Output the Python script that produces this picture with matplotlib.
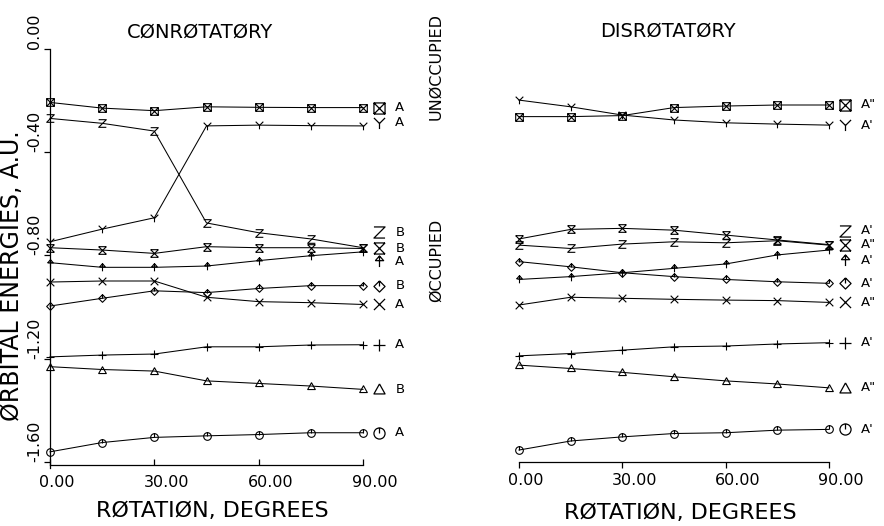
import matplotlib
matplotlib.use("Agg")
import matplotlib.pyplot as plt
from matplotlib.path import Path
from matplotlib.transforms import ScaledTranslation

plt.rcParams["font.family"] = ["DejaVu Sans"]
plt.rcParams["axes.unicode_minus"] = False

# ---- data -------------------------------------------------------------
angles = [0, 15, 30, 45, 60, 75, 90]
x_ticks = [0, 30, 60, 90]
x_tick_labels = ["0.00", "30.00", "60.00", "90.00"]
y_ticks = [0.0, -0.4, -0.8, -1.2, -1.6]
y_tick_labels = ["0.00", "-0.40", "-0.80", "-1.20", "-1.60"]

series_order = ["boxx", "y", "z", "hg", "arrow", "diamond", "x", "plus", "tri", "circle"]

con_boxx = [-0.207, -0.229, -0.239, -0.224, -0.226, -0.227, -0.227]
con_y = [-0.747, -0.698, -0.654, -0.298, -0.295, -0.297, -0.298]
con_z = [-0.269, -0.288, -0.318, -0.674, -0.712, -0.736, -0.770]
con_hg = [-0.770, -0.779, -0.792, -0.766, -0.770, -0.770, -0.773]
con_arrow = [-0.828, -0.846, -0.846, -0.841, -0.820, -0.801, -0.786]
con_x = [-0.903, -0.899, -0.899, -0.962, -0.979, -0.983, -0.990]
con_diamond = [-0.996, -0.966, -0.937, -0.944, -0.928, -0.917, -0.917]
con_plus = [-1.193, -1.186, -1.182, -1.154, -1.154, -1.147, -1.146]
con_tri = [-1.231, -1.242, -1.248, -1.286, -1.296, -1.306, -1.319]
con_circle = [-1.561, -1.525, -1.505, -1.499, -1.494, -1.487, -1.487]
con_sym = ["A", "A", "B", "B", "A", "B", "A", "A", "B", "A"]

dis_boxx = [-0.262, -0.262, -0.258, -0.227, -0.221, -0.217, -0.217]
dis_y = [-0.198, -0.224, -0.256, -0.275, -0.286, -0.291, -0.295]
dis_z = [-0.760, -0.773, -0.756, -0.747, -0.751, -0.743, -0.760]
dis_hg = [-0.736, -0.699, -0.695, -0.702, -0.721, -0.740, -0.758]
dis_arrow = [-0.893, -0.882, -0.867, -0.850, -0.833, -0.798, -0.779]
dis_x = [-0.992, -0.962, -0.966, -0.970, -0.973, -0.975, -0.982]
dis_diamond = [-0.824, -0.844, -0.867, -0.882, -0.893, -0.902, -0.908]
dis_plus = [-1.189, -1.180, -1.167, -1.154, -1.151, -1.143, -1.138]
dis_tri = [-1.225, -1.238, -1.253, -1.270, -1.286, -1.298, -1.313]
dis_circle = [-1.554, -1.519, -1.503, -1.490, -1.487, -1.477, -1.474]
dis_sym = ['A"', "A'", "A'", 'A"', "A'", "A'", 'A"', "A'", 'A"', "A'"]

con_series = dict(zip(series_order, [con_boxx, con_y, con_z, con_hg, con_arrow,
                                     con_diamond, con_x, con_plus, con_tri, con_circle]))
dis_series = dict(zip(series_order, [dis_boxx, dis_y, dis_z, dis_hg, dis_arrow,
                                     dis_diamond, dis_x, dis_plus, dis_tri, dis_circle]))

# vertical nudges for end labels that would otherwise overlap
con_nudge = {"y": 0.012, "z": 0.06, "arrow": -0.036}
dis_nudge = {"z": 0.055, "arrow": -0.04}


# ---- plotter-style symbols -------------------------------------------
def seg_path(*segs):
    verts, codes = [], []
    for s in segs:
        for i, p in enumerate(s):
            verts.append(p)
            codes.append(Path.MOVETO if i == 0 else Path.LINETO)
    return Path(verts, codes)


circle = Path.unit_circle()
markers = {
    "boxx": seg_path([(-1, -1), (1, -1), (1, 1), (-1, 1), (-1, -1)],
                     [(-1, -1), (1, 1)], [(-1, 1), (1, -1)]),
    "y": seg_path([(-1, 1), (0, 0)], [(1, 1), (0, 0)], [(0, 0), (0, -1)]),
    "z": seg_path([(-1, 1), (1, 1), (-1, -1), (1, -1)]),
    "hg": seg_path([(-1, 1), (1, 1)], [(-1, -1), (1, -1)],
                   [(-1, 1), (1, -1)], [(1, 1), (-1, -1)]),
    "arrow": seg_path([(0, -1), (0, 1)], [(-0.75, 0.15), (0, 1), (0.75, 0.15), (-0.75, 0.15)]),
    "diamond": seg_path([(0, 1), (1, 0), (0, -1), (-1, 0), (0, 1)], [(0, 0), (0, 1)]),
    "x": seg_path([(-1, -1), (1, 1)], [(-1, 1), (1, -1)]),
    "plus": seg_path([(-1, 0), (1, 0)], [(0, -1), (0, 1)]),
    "tri": seg_path([(0, 1), (1, -0.8), (-1, -0.8), (0, 1)]),
    "circle": Path.make_compound_path(circle, seg_path([(0, 0), (0, 1)])),
}

# ---- figure -----------------------------------------------------------
W, H = 884, 526
fig = plt.figure(figsize=(W / 100, H / 100), dpi=100)

y_lo, y_hi = -1.612, 0.0
top_px, bot_px = 49, 465


def axes_at(x0, x1):
    return fig.add_axes([x0 / W, 1 - bot_px / H, (x1 - x0) / W, (bot_px - top_px) / H])


ax_con = axes_at(50, 363)
ax_dis = axes_at(519, 829)

# spine placement first: moving a spine rebuilds its ticks
ax_dis.spines["bottom"].set_position(("data", -1.60))
ax_dis.spines["left"].set_visible(False)

tick_font = dict(family="DejaVu Sans", size=11.5)
for ax, series, sym, nudge, tdir in ((ax_con, con_series, con_sym, con_nudge, "in"),
                                     (ax_dis, dis_series, dis_sym, dis_nudge, "out")):
    ax.set_xlim(0, 90)
    ax.set_ylim(y_lo, y_hi)
    ax.patch.set_alpha(0)
    for name, s in zip(series_order, sym):
        vals = series[name]
        ax.plot(angles, vals, color="black", lw=0.75, marker=markers[name],
                ms=5.5, mfc="none", mec="black", mew=0.8, clip_on=False)
        ly = vals[-1] + nudge.get(name, 0.0)
        ax.plot([94.5], [ly], marker=markers[name], ms=8, mfc="none",
                mec="black", mew=0.9, ls="none", clip_on=False)
        ax.text(99.3, ly, s, ha="left", va="center", fontsize=9.5, clip_on=False)

    for side in ("top", "right"):
        ax.spines[side].set_visible(False)
    ax.spines["bottom"].set_bounds(0, 90)
    ax.spines["bottom"].set_linewidth(0.9)
    ax.set_xticks(x_ticks, x_tick_labels, **tick_font)
    ax.tick_params(axis="x", direction=tdir, length=4, width=0.9,
                   pad=7 if tdir == "in" else 4)
    shift = ScaledTranslation(-11 / 100, 0, fig.dpi_scale_trans)
    for lab in ax.get_xticklabels():
        lab.set_horizontalalignment("left")
        lab.set_transform(lab.get_transform() + shift)

ax_con.spines["left"].set_linewidth(0.9)
ax_con.spines["left"].set_bounds(y_lo - 0.01, 0)
ax_con.set_yticks(y_ticks, y_tick_labels, rotation=90, va="bottom", ha="right", **tick_font)
ax_con.tick_params(axis="y", direction="out", length=4, width=0.9, pad=1.5)
ax_dis.set_yticks([])

# ---- titles and axis labels -----------------------------------------
fig.text(200 / W, 1 - 32 / H, "CØNRØTATØRY", ha="center", va="center", fontsize=14)
fig.text(668 / W, 1 - 31 / H, "DISRØTATØRY", ha="center", va="center", fontsize=14)
fig.text(212 / W, 1 - 511 / H, "RØTATIØN, DEGREES", ha="center", va="center", fontsize=16)
fig.text(680 / W, 1 - 513 / H, "RØTATIØN, DEGREES", ha="center", va="center", fontsize=16)
fig.text(12 / W, 1 - 276 / H, "ØRBITAL ENERGIES, A.U.", ha="center", va="center",
         rotation=90, fontsize=17)
fig.text(436 / W, 1 - 67 / H, "UNØCCUPIED", ha="center", va="center", rotation=90, fontsize=11.5)
fig.text(436 / W, 1 - 260 / H, "ØCCUPIED", ha="center", va="center", rotation=90, fontsize=11.5)

fig.savefig("out.png", dpi=100)
